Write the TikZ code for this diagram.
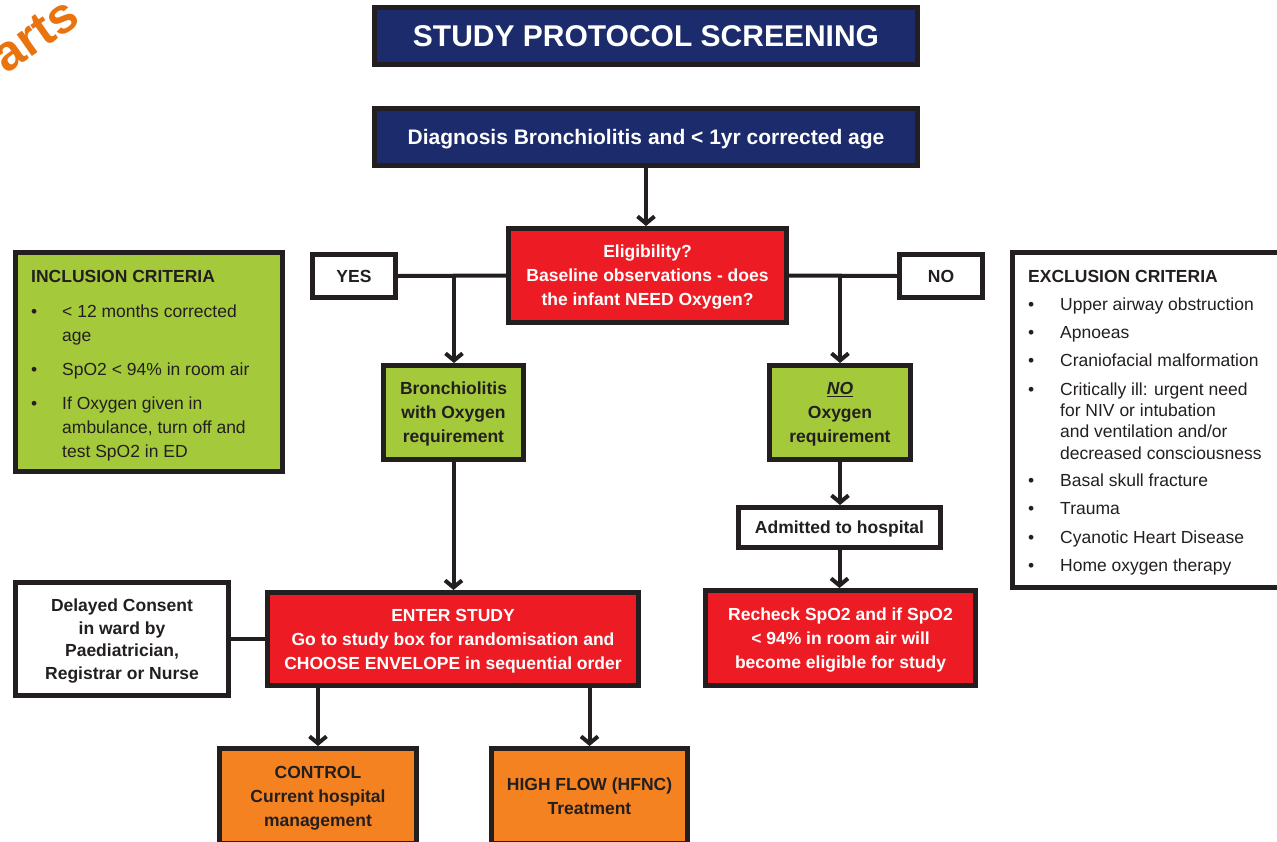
\documentclass[tikz,border=0pt]{standalone}
\usepackage{fontspec}
\setmainfont{Liberation Sans}
\usetikzlibrary{arrows.meta}

\definecolor{ink}{HTML}{231F20}
\definecolor{navy}{HTML}{1B2B6B}
\definecolor{alert}{HTML}{ED1C24}
\definecolor{leaf}{HTML}{A4C93A}
\definecolor{amber}{HTML}{F58220}
\definecolor{brand}{HTML}{E8730F}

\begin{document}
\begin{tikzpicture}[x=1pt,y=-1pt,
  box/.style={draw=ink, line width=5pt, inner sep=0pt, align=center,
    text depth=-2pt, font=\bfseries\fontsize{17.5}{24}\selectfont},
  navybox/.style={box, fill=navy, text=white},
  redbox/.style={box, fill=alert, text=white},
  greenbox/.style={box, fill=leaf, text=ink},
  orangebox/.style={box, fill=amber, text=ink},
  plainbox/.style={box, fill=white, text=ink},
  listtext/.style={anchor=base west, inner sep=0pt, text=ink},
  link/.style={draw=ink, line width=4pt},
  flow/.style={link, -{Straight Barb[length=7pt,width=17pt]}},
]
\clip (0,0) rectangle (1277,841);
\useasboundingbox (0,0) rectangle (1277,841);
\fill[white] (0,0) rectangle (1277,841);

% brand watermark in the corner
\node[text=brand, font=\bfseries\fontsize{50}{50}\selectfont, rotate=35,
  anchor=base east, inner sep=0pt] (brandmark) at (82,22) {arts};

% header boxes
\node[navybox, minimum width=543pt, minimum height=57pt, text depth=0pt,
  font=\bfseries\fontsize{30}{36}\selectfont] (title) at (646,36)
  {STUDY PROTOCOL SCREENING};
\node[navybox, minimum width=543pt, minimum height=57pt,
  font=\bfseries\fontsize{21}{26}\selectfont] (diag) at (646,137)
  {Diagnosis Bronchiolitis and < 1yr corrected age};

% eligibility decision
\node[redbox, minimum width=278pt, minimum height=94pt] (elig) at (647.5,275.5)
  {Eligibility?\\Baseline observations - does\\the infant NEED Oxygen?};
\node[plainbox, minimum width=83pt, minimum height=43pt, text depth=0pt] (yes) at (354,276) {YES};
\node[plainbox, minimum width=83pt, minimum height=43pt, text depth=0pt] (no) at (941,276) {NO};

% criteria panels
\node[greenbox, minimum width=267pt, minimum height=219pt] (incl) at (149,362) {};
\node[listtext, font=\fontsize{17.5}{24}\selectfont] (inclT) at (31,282) {%
  \begin{tabular}[t]{@{}p{31pt}@{}l@{}}
  \multicolumn{2}{@{}l@{}}{\bfseries INCLUSION CRITERIA}\\[11pt]
  \textbullet & < 12 months corrected\\
   & age\\[10pt]
  \textbullet & SpO2 < 94\% in room air\\[10pt]
  \textbullet & If Oxygen given in\\
   & ambulance, turn off and\\
   & test SpO2 in ED
  \end{tabular}};

\node[plainbox, minimum width=285pt, minimum height=335pt] (excl) at (1155,420) {};
\node[listtext, font=\fontsize{17.5}{21.3}\selectfont] (exclT) at (1028,282) {%
  \begin{tabular}[t]{@{}p{32pt}@{}l@{}}
  \multicolumn{2}{@{}l@{}}{\bfseries EXCLUSION CRITERIA}\\[7pt]
  \textbullet & Upper airway obstruction\\[7pt]
  \textbullet & Apnoeas\\[7pt]
  \textbullet & Craniofacial malformation\\[7pt]
  \textbullet & Critically ill: urgent need\\
   & for NIV or intubation\\
   & and ventilation and/or\\
   & decreased consciousness\\[6pt]
  \textbullet & Basal skull fracture\\[7pt]
  \textbullet & Trauma\\[7pt]
  \textbullet & Cyanotic Heart Disease\\[7pt]
  \textbullet & Home oxygen therapy
  \end{tabular}};

% branches
\node[greenbox, minimum width=140pt, minimum height=94pt] (bron) at (453.5,412.5)
  {Bronchiolitis\\with Oxygen\\requirement};
\node[greenbox, minimum width=141pt, minimum height=94pt] (noox) at (840,412.5)
  {\underline{\textit{NO}}\\Oxygen\\requirement};
\node[plainbox, minimum width=202pt, minimum height=40pt, text depth=0pt] (adm) at (839.5,527.5)
  {Admitted to hospital};
\node[redbox, minimum width=270pt, minimum height=95pt] (rech) at (840.5,638)
  {Recheck SpO2 and if SpO2\\< 94\% in room air will\\become eligible for study};

% study entry
\node[redbox, minimum width=371pt, minimum height=93pt] (enter) at (453,639)
  {ENTER STUDY\\Go to study box for randomisation and\\CHOOSE ENVELOPE in sequential order};
\node[plainbox, minimum width=213pt, minimum height=113pt,
  font=\bfseries\fontsize{17.5}{22.7}\selectfont] (delay) at (122,639)
  {Delayed Consent\\in ward by\\Paediatrician,\\Registrar or Nurse};
\node[orangebox, minimum width=197pt, minimum height=95pt] (ctrl) at (318,796)
  {CONTROL\\Current hospital\\management};
\node[orangebox, minimum width=196pt, minimum height=95pt] (hfnc) at (589.5,796)
  {HIGH FLOW (HFNC)\\Treatment};

% junctions on the yes/no line
\coordinate (yj) at (454,276);
\coordinate (nj) at (840,276);

% connectors
\draw[flow] (diag.south) -- (diag.south |- elig.north);
\draw[link] (yes.east) -- (elig.west);
\draw[link] (elig.east) -- (no.west);
\draw[flow] (yj) -- (yj |- bron.north);
\draw[flow] (nj) -- (nj |- noox.north);
\draw[flow] (noox.south) -- (noox.south |- adm.north);
\draw[flow] (adm.south) -- (adm.south |- rech.north);
\draw[flow] (bron.south) -- (bron.south |- enter.north);
\draw[link] (delay.east) -- (delay.east -| enter.west);
\draw[flow] (enter.south -| ctrl.north) -- (ctrl.north);
\draw[flow] (enter.south -| hfnc.north) -- (hfnc.north);
\end{tikzpicture}
\end{document}
